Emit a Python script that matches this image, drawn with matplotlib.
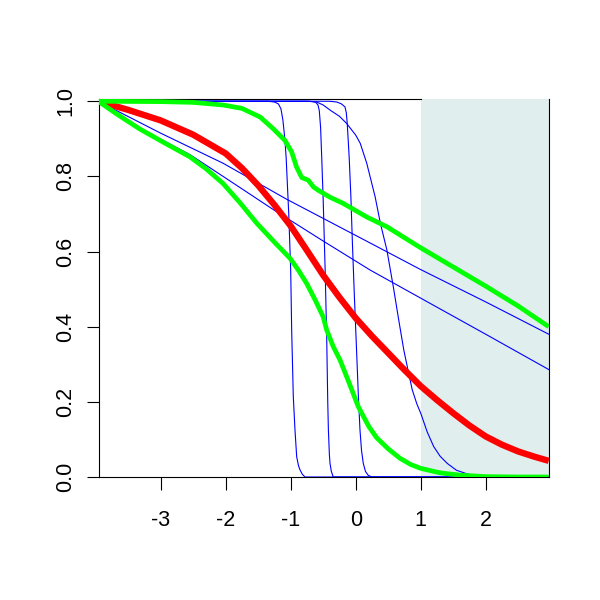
import matplotlib
matplotlib.use("Agg")
import matplotlib.pyplot as plt

# ---- data ----
x_ticks = [-3, -2, -1, 0, 1, 2]
y_ticks = [0.0, 0.2, 0.4, 0.6, 0.8, 1.0]
y_tick_labels = ["0.0", "0.2", "0.4", "0.6", "0.8", "1.0"]
shade_range = [1, 3]

red_x = [-3.96, -3.5, -3.0, -2.5, -2.0, -1.75, -1.5, -1.25, -1.0, -0.75, -0.5, -0.25, 0.0,
         0.25, 0.5, 0.75, 1.0, 1.25, 1.5, 1.75, 2.0, 2.25, 2.5, 2.75, 2.97]
red_y = [1.0, 0.977, 0.949, 0.911, 0.861, 0.822, 0.776, 0.724, 0.668, 0.603, 0.537, 0.478, 0.423,
         0.375, 0.33, 0.285, 0.242, 0.205, 0.17, 0.137, 0.108, 0.086, 0.068, 0.054, 0.043]

green_up_x = [-3.96, -3.0, -2.5, -2.04, -1.75, -1.47, -1.27, -1.09, -0.985, -0.91, -0.83, -0.73,
              -0.65, -0.575, -0.4, -0.19, 0.17, 0.48, 1.0, 1.5, 2.0, 2.5, 2.97]
green_up_y = [1.0, 0.999, 0.997, 0.99, 0.981, 0.958, 0.927, 0.896, 0.865, 0.825, 0.797, 0.790,
              0.772, 0.763, 0.745, 0.728, 0.692, 0.666, 0.61, 0.559, 0.508, 0.455, 0.40]

green_lo_x = [-3.96, -3.65, -3.33, -2.95, -2.55, -2.3, -2.04, -1.78, -1.52, -1.25, -1.01, -0.88,
              -0.754, -0.62, -0.5, -0.446, -0.345, -0.24, -0.1, 0.04, 0.2, 0.32, 0.5, 0.68, 0.85,
              1.0, 1.3, 1.6, 2.0, 2.5, 2.97]
green_lo_y = [1.0, 0.963, 0.927, 0.89, 0.852, 0.82, 0.781, 0.73, 0.675, 0.625, 0.582, 0.55,
              0.515, 0.47, 0.426, 0.391, 0.347, 0.311, 0.25, 0.187, 0.135, 0.105, 0.075, 0.05, 0.033,
              0.023, 0.011, 0.005, 0.001, 0.0, 0.0]

blue1_x = [-3.96, -3.0, -2.04, -1.06, 0.22, 1.0, 2.0, 2.97]
blue1_y = [1.0, 0.915, 0.835, 0.739, 0.623, 0.552, 0.466, 0.38]

blue2_x = [-3.96, -3.33, -2.55, -2.04, -1.27, -0.5, 0.22, 1.0, 2.0, 2.97]
blue2_y = [1.0, 0.929, 0.858, 0.80, 0.712, 0.628, 0.551, 0.476, 0.38, 0.286]

blueA_x = [-3.96, -1.35, -1.25, -1.19, -1.15, -1.12, -1.09, -1.07, -1.03, -1.0, -0.985, -0.96,
           -0.934, -0.908, -0.88, -0.857, -0.82, -0.78, 2.97]
blueA_y = [1.0, 1.0, 0.998, 0.993, 0.98, 0.95, 0.9, 0.85, 0.7, 0.55, 0.391, 0.214,
           0.125, 0.054, 0.03, 0.019, 0.007, 0.0, 0.0]

blueB_x = [-3.96, -0.7, -0.62, -0.58, -0.56, -0.54, -0.523, -0.5, -0.47, -0.446, -0.43, -0.42,
           -0.405, -0.395, -0.375, -0.345, 2.97]
blueB_y = [1.0, 1.0, 0.998, 0.99, 0.975, 0.93, 0.852, 0.737, 0.55, 0.37, 0.2, 0.125,
           0.06, 0.036, 0.015, 0.0, 0.0]

blueC_x = [-3.96, -0.4, -0.29, -0.22, -0.165, -0.145, -0.13, -0.1, -0.075, -0.05, -0.02, 0.015,
           0.04, 0.066, 0.09, 0.117, 0.15, 0.19, 0.246, 2.97]
blueC_y = [1.0, 1.0, 0.998, 0.993, 0.985, 0.97, 0.941, 0.85, 0.75, 0.62, 0.48, 0.33,
           0.22, 0.125, 0.07, 0.036, 0.015, 0.005, 0.0, 0.0]

blueD_x = [-3.96, -0.75, -0.6, -0.5, -0.39, -0.25, -0.14, 0.0, 0.07, 0.17, 0.3, 0.38, 0.48, 0.58,
           0.66, 0.74, 0.81, 0.87, 0.94, 1.0, 1.1, 1.2, 1.3, 1.41, 1.55, 1.72, 1.9, 2.1, 2.97]
blueD_y = [1.0, 1.0, 0.998, 0.99, 0.976, 0.96, 0.941, 0.91, 0.888, 0.835, 0.745, 0.675, 0.604, 0.505,
           0.42, 0.338, 0.28, 0.232, 0.195, 0.17, 0.12, 0.081, 0.055, 0.036, 0.018, 0.008, 0.002, 0.0, 0.0]

# ---- drawing ----
plt.rcParams['font.family'] = ['Liberation Sans', 'DejaVu Sans']
fig = plt.figure(figsize=(6, 6), dpi=100)
ax = fig.add_axes([98.5 / 600, 123 / 600, (549 - 98.5) / 600, (477 - 99) / 600])
ax.set_xlim(-3.957, 2.974)
ax.set_ylim(0, 1.006)

ax.axvspan(shade_range[0], shade_range[1], color="#E0EEEE", lw=0, zorder=1)

for bx, by in [(blue1_x, blue1_y), (blue2_x, blue2_y), (blueA_x, blueA_y),
               (blueB_x, blueB_y), (blueC_x, blueC_y), (blueD_x, blueD_y)]:
    ax.plot(bx, by, color="#0000FF", lw=0.8, zorder=3)

ax.plot(red_x, red_y, color="#FF0000", lw=4.6, zorder=4, solid_capstyle="butt")
ax.plot(green_up_x, green_up_y, color="#00FF00", lw=3.4, zorder=5, solid_capstyle="butt")
ax.plot(green_lo_x, green_lo_y, color="#00FF00", lw=3.4, zorder=5, solid_capstyle="butt")

for s in ax.spines.values():
    s.set_linewidth(0.8)
    s.set_color("black")
ax.spines['top'].set_bounds(-3.957, shade_range[0])

ax.set_xticks(x_ticks)
ax.set_xticklabels([str(t) for t in x_ticks])
ax.set_yticks(y_ticks)
ax.set_yticklabels(y_tick_labels, rotation=90, va="center")
ax.tick_params(axis="both", direction="out", length=9, width=0.8, labelsize=15.5)
ax.tick_params(axis="x", pad=15)
ax.tick_params(axis="y", pad=7)

fig.savefig("out.png", dpi=100)
